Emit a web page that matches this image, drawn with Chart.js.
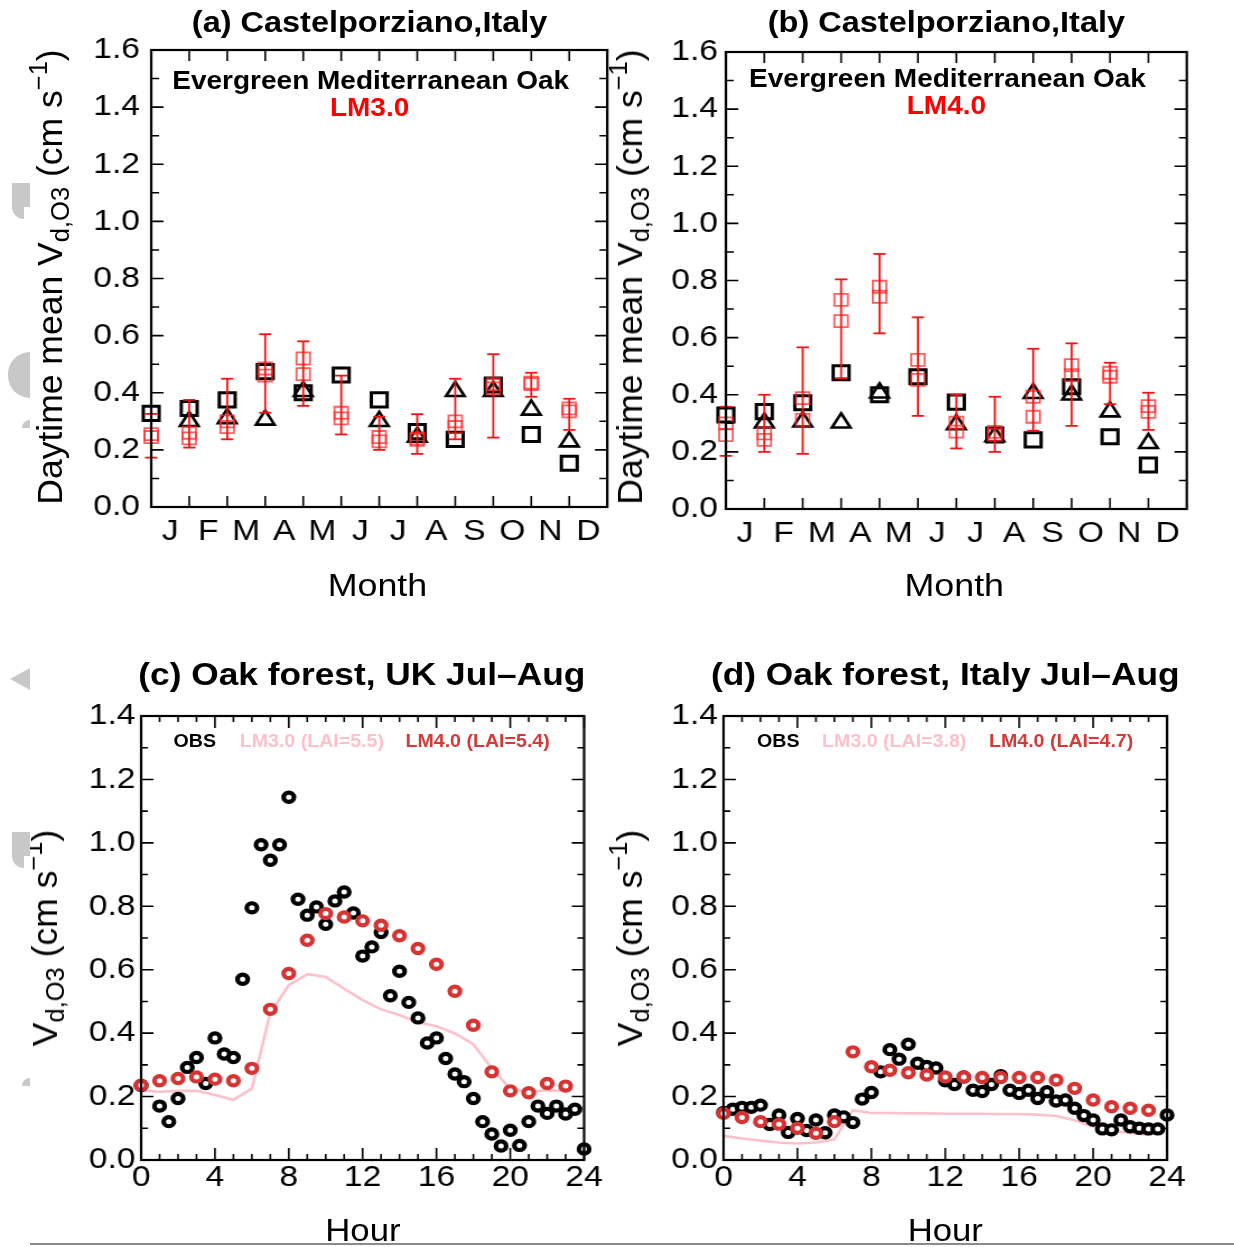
<!DOCTYPE html>
<html>
<head>
<meta charset="utf-8">
<script src="https://cdn.jsdelivr.net/npm/chart.js@4.4.1/dist/chart.umd.min.js"></script>
<style>
  html, body { margin: 0; padding: 0; background: #fff; }
  body { width: 1234px; height: 1247px; position: relative; overflow: hidden;
         font-family: "Liberation Sans", Arial, sans-serif; color: #000; }
  /* the original figure is stretched sideways, so is this one */
  #wrap { position: absolute; left: 0; top: 0; width: 1102px; height: 1247px;
          transform: scaleX(1.12); transform-origin: 0 0; }
  .box { position: absolute; }
  .t { position: absolute; white-space: nowrap; transform: translate(-50%, -50%); line-height: 1; }
  .b { font-weight: bold; }
  .lg { position: absolute; white-space: nowrap; transform: translateY(-50%); line-height: 1;
        font-weight: bold; font-size: 17.5px; }
  .yt { position: absolute; white-space: nowrap; line-height: 1;
        transform: translate(-50%, -50%) rotate(-90deg); }
  sub { font-size: 0.72em; vertical-align: -0.28em; }
  sup { font-size: 0.72em; vertical-align: 0.6em; }
  #rule { position: absolute; left: 30px; top: 1243px; width: 1204px; height: 2px; background: #8a8a8a; }
  .g { position: absolute; background: #c8c8c8; }
</style>
</head>
<body>
<div id="wrap">
  <div class="box" id="boxA"><canvas id="chartA"></canvas></div>
  <div class="box" id="boxB"><canvas id="chartB"></canvas></div>
  <div class="box" id="boxC"><canvas id="chartC"></canvas></div>
  <div class="box" id="boxD"><canvas id="chartD"></canvas></div>

  <div class="t b" style="left:330px;top:22px;font-size:29px">(a) Castelporziano,Italy</div>
  <div class="t b" style="left:845px;top:22px;font-size:29px">(b) Castelporziano,Italy</div>
  <div class="t b" style="left:331px;top:80px;font-size:25px">Evergreen Mediterranean Oak</div>
  <div class="t b" style="left:330px;top:107px;font-size:25px;color:#f00">LM3.0</div>
  <div class="t b" style="left:846px;top:78px;font-size:25px">Evergreen Mediterranean Oak</div>
  <div class="t b" style="left:845px;top:105px;font-size:25px;color:#f00">LM4.0</div>
  <div class="t" style="left:337px;top:585px;font-size:32px">Month</div>
  <div class="t" style="left:852px;top:585px;font-size:32px">Month</div>

  <div class="t b" style="left:323px;top:675px;font-size:31.5px">(c) Oak forest, UK Jul–Aug</div>
  <div class="t b" style="left:844px;top:675px;font-size:31.5px">(d) Oak forest, Italy Jul–Aug</div>
  <div class="lg" style="left:155px;top:742px">OBS</div>
  <div class="lg" style="left:214px;top:742px;color:#ffc0cb">LM3.0 (LAI=5.5)</div>
  <div class="lg" style="left:362px;top:742px;color:#d33a3a">LM4.0 (LAI=5.4)</div>
  <div class="lg" style="left:676px;top:742px">OBS</div>
  <div class="lg" style="left:734px;top:742px;color:#ffc0cb">LM3.0 (LAI=3.8)</div>
  <div class="lg" style="left:883px;top:742px;color:#d33a3a">LM4.0 (LAI=4.7)</div>
  <div class="t" style="left:324px;top:1230px;font-size:31px">Hour</div>
  <div class="t" style="left:844px;top:1230px;font-size:31px">Hour</div>
</div>

<div class="yt" style="left:50px;top:277px;font-size:35.5px">Daytime mean V<sub>d,O3</sub> (cm s<sup>−1</sup>)</div>
<div class="yt" style="left:630px;top:277px;font-size:35.5px">Daytime mean V<sub>d,O3</sub> (cm s<sup>−1</sup>)</div>
<div class="yt" style="left:45px;top:938px;font-size:35.5px">V<sub>d,O3</sub> (cm s<sup>−1</sup>)</div>
<div class="yt" style="left:630px;top:938px;font-size:35.5px">V<sub>d,O3</sub> (cm s<sup>−1</sup>)</div>
<div id="rule"></div>

<!-- grey scraps along the left edge of the original scan -->
<div class="g" style="left:12px;top:183px;width:18px;height:24px"></div>
<div class="g" style="left:12px;top:205px;width:12px;height:14px;border-radius:0 0 0 12px"></div>
<div class="g" style="left:8px;top:352px;width:22px;height:46px;border-radius:23px 0 0 23px"></div>
<div class="g" style="left:22px;top:420px;width:8px;height:8px;border-radius:8px 0 0 0"></div>
<div style="position:absolute;left:10px;top:668px;width:0;height:0;border-right:20px solid #c8c8c8;border-top:11px solid transparent;border-bottom:11px solid transparent"></div>
<div class="g" style="left:12px;top:832px;width:18px;height:24px"></div>
<div class="g" style="left:12px;top:854px;width:12px;height:14px;border-radius:0 0 0 12px"></div>
<div class="g" style="left:22px;top:1078px;width:8px;height:8px;border-radius:8px 0 0 0"></div>

<script>
// ---- axes ----
const months = ['J','F','M','A','M','J','J','A','S','O','N','D'];
const monthPos = [0,1,2,3,4,5,6,7,8,9,10,11];
const monthLabelPos = [0.5,1.5,2.5,3.5,4.5,5.5,6.5,7.5,8.5,9.5,10.5,11.5];
const monthTickPos = [1,2,3,4,5,6,7,8,9,10,11];
const vdTicksAB = [0,0.2,0.4,0.6,0.8,1.0,1.2,1.4,1.6];
const vdMinorAB = [0.1,0.3,0.5,0.7,0.9,1.1,1.3,1.5];
const vdTicksCD = [0,0.2,0.4,0.6,0.8,1.0,1.2,1.4];
const vdMinorCD = [0.1,0.3,0.5,0.7,0.9,1.1,1.3];
const hourTicks = [0,4,8,12,16,20,24];
const hourMinor = [1,2,3,5,6,7,9,10,11,13,14,15,17,18,19,21,22,23];
const hours = [0,1,2,3,4,5,6,7,8,9,10,11,12,13,14,15,16,17,18,19,20,21,22,23];
const halfHours = [0,0.5,1,1.5,2,2.5,3,3.5,4,4.5,5,5.5,6,6.5,7,7.5,8,8.5,9,9.5,10,10.5,11,11.5,
                   12,12.5,13,13.5,14,14.5,15,15.5,16,16.5,17,17.5,18,18.5,19,19.5,20,20.5,21,21.5,
                   22,22.5,23,23.5,24];

// ---- (a) Castelporziano, LM3.0 ----
const obsSqA  = [0.328,0.345,0.375,0.474,0.400,0.462,0.375,0.264,0.237,0.427,0.254,0.153];
const obsTriA = [null,0.300,0.310,0.305,0.405,null,0.300,0.245,0.405,0.405,0.340,0.229];
const modA1   = [0.255,0.260,0.300,0.485,0.520,0.330,0.245,0.240,0.300,0.430,0.435,0.345];
const modA2   = [0.245,0.240,0.280,0.460,0.465,0.310,0.230,0.235,0.280,0.415,0.430,0.335];
const modLoA  = [0.173,0.208,0.237,0.330,0.354,0.254,0.200,0.186,0.237,0.243,0.386,0.270];
const modHiA  = [0.326,0.375,0.449,0.605,0.580,0.460,0.316,0.325,0.449,0.535,0.470,0.379];

// ---- (b) Castelporziano, LM4.0 ----
const obsSqB  = [0.329,0.341,0.372,0.477,0.400,0.463,0.374,0.259,0.242,0.428,0.253,0.154];
const obsTriB = [null,0.302,0.306,0.302,0.407,null,0.296,0.254,0.405,0.400,0.341,0.230];
const modB1   = [0.300,0.265,0.388,0.732,0.778,0.522,0.302,0.270,0.393,0.504,0.477,0.360];
const modB2   = [0.259,0.242,0.312,0.658,0.743,0.452,0.271,0.260,0.323,0.469,0.463,0.340];
const modLoB  = [0.186,0.200,0.193,0.458,0.615,0.326,0.212,0.200,0.274,0.291,0.367,0.277];
const modHiB  = [0.358,0.400,0.566,0.804,0.893,0.671,0.400,0.393,0.561,0.580,0.512,0.407];

// ---- (c) Oak forest UK ----
const obsC = [0.235,null,0.170,0.121,0.194,0.292,0.323,0.241,0.385,0.334,0.323,0.570,0.795,0.994,
              0.945,0.994,1.144,0.822,0.772,0.798,0.743,0.817,0.845,0.779,0.643,0.672,0.717,0.518,
              0.595,0.497,0.448,0.369,0.385,0.320,0.271,0.247,0.194,0.121,0.082,0.044,0.094,0.046,
              0.121,0.170,0.147,0.170,0.145,0.160,0.035];
const lm3C = [0.220,0.215,0.218,0.218,0.205,0.190,0.225,0.465,0.551,0.586,0.577,0.540,
              0.504,0.475,0.457,0.434,0.422,0.399,0.365,0.289,0.224,0.215,0.220,0.218];
const lm4C = [0.236,0.250,0.257,0.262,0.255,0.250,0.289,0.475,0.588,0.693,0.777,0.766,
              0.754,0.740,0.707,0.667,0.617,0.532,0.425,0.278,0.218,0.212,0.241,0.233];

// ---- (d) Oak forest Italy ----
const obsD = [0.150,0.160,0.166,0.166,0.173,0.112,0.142,0.087,0.131,0.093,0.126,0.086,0.142,0.136,
              0.118,0.192,0.213,0.278,0.348,0.318,0.365,0.305,0.295,0.290,0.250,0.238,0.262,0.220,
              0.216,0.238,0.266,0.220,0.210,0.220,0.194,0.215,0.186,0.189,0.163,0.140,0.126,0.098,
              0.095,0.126,0.105,0.100,0.098,0.098,0.142];
const lm3D = [0.076,0.068,0.061,0.055,0.052,0.055,0.065,0.157,0.148,0.148,0.147,0.147,
              0.146,0.146,0.146,0.145,0.145,0.143,0.139,0.125,0.105,0.092,0.085,0.079];
const lm4D = [0.147,0.134,0.121,0.113,0.100,0.084,0.121,0.341,0.294,0.283,0.275,0.268,
              0.262,0.262,0.260,0.260,0.260,0.260,0.252,0.226,0.189,0.168,0.163,0.157];

// draws the frame and the inward tick marks of every panel
const frameTicks = {
  id: 'frameTicks',
  afterDatasetsDraw(chart, args, o) {
    const { ctx, chartArea: a, scales: { x, y } } = chart;
    ctx.save();
    ctx.strokeStyle = '#000';
    ctx.lineWidth = 1.6;
    ctx.beginPath();
    const tx = (vals, len) => (vals || []).forEach(v => {
      const p = x.getPixelForValue(v);
      ctx.moveTo(p, a.bottom); ctx.lineTo(p, a.bottom - len);
      ctx.moveTo(p, a.top); ctx.lineTo(p, a.top + len);
    });
    const ty = (vals, len) => (vals || []).forEach(v => {
      const p = y.getPixelForValue(v);
      ctx.moveTo(a.left, p); ctx.lineTo(a.left + len, p);
      ctx.moveTo(a.right, p); ctx.lineTo(a.right - len, p);
    });
    tx(o.xMajor, o.xMajorLen); tx(o.xMinor, o.xMinorLen);
    ty(o.yMajor, o.yMajorLen); ty(o.yMinor, o.yMinorLen);
    ctx.stroke();
    ctx.lineWidth = 2.2;
    ctx.strokeRect(a.left, a.top, a.right - a.left, a.bottom - a.top);
    ctx.restore();
  }
};
Chart.register(frameTicks);
Chart.defaults.font.family = '"Liberation Sans", Arial, sans-serif';
Chart.defaults.color = '#000';

const PAD_TOP = 34;
let charts = {};
function makeChart(id, config) {
  if (charts[id]) charts[id].destroy();
  charts[id] = new Chart(document.getElementById(id), config);
}

function place(boxId, left, top, width, height) {
  const b = document.getElementById(boxId);
  Object.assign(b.style, { left: left + 'px', top: top + 'px', width: width + 'px', height: height + 'px' });
}

function pts(xs, ys) { return xs.map((x, i) => ({ x, y: ys[i] })); }

function errBars(lo, hi) {
  const d = [];
  lo.forEach((v, i) => d.push({ x: monthPos[i], y: v }, { x: monthPos[i], y: hi[i] }, { x: monthPos[i], y: null }));
  return d;
}

function yAxis(ticks, max, pad) {
  return {
    type: 'linear', min: 0, max,
    grid: { display: false, drawTicks: false }, border: { display: false },
    afterBuildTicks: s => { s.ticks = ticks.map(v => ({ value: v })); },
    afterFit: s => { s.width = 60; },
    ticks: { padding: pad, font: { size: 30 }, color: '#000', callback: v => v.toFixed(1) }
  };
}

function baseOpts(xScale, yScale, ticks) {
  return {
    responsive: true, maintainAspectRatio: false, animation: false,
    layout: { padding: { top: PAD_TOP, right: 24, left: 0, bottom: 0 } },
    plugins: { legend: { display: false }, tooltip: { enabled: false }, frameTicks: ticks },
    scales: { x: xScale, y: yScale }
  };
}

function monthChart(id, sq, tri, m1, m2, lo, hi, yPad) {
  const xScale = {
    type: 'linear', min: 0, max: 12,
    grid: { display: false, drawTicks: false }, border: { display: false },
    afterBuildTicks: s => { s.ticks = monthLabelPos.map(v => ({ value: v })); },
    afterFit: s => { s.height = 50; },
    ticks: { padding: 7, font: { size: 30 }, color: '#000', autoSkip: false, maxRotation: 0,
             callback: (v, i) => months[i] }
  };
  const ticks = { xMajor: monthTickPos, xMajorLen: 11, yMajor: vdTicksAB, yMajorLen: 11,
                  yMinor: vdMinorAB, yMinorLen: 7 };
  makeChart(id, {
    type: 'scatter',
    data: { datasets: [
      { data: errBars(lo, hi), showLine: true, spanGaps: false, borderColor: '#f01414', borderWidth: 1.8,
        pointStyle: 'line', pointRadius: 5.5, pointBorderWidth: 1.8, pointBorderColor: '#f01414', clip: false },
      { data: pts(monthPos, m1), pointStyle: 'rect', pointRadius: 8.5, pointBorderWidth: 1.8,
        pointBorderColor: 'rgba(255,40,40,0.75)', pointBackgroundColor: 'transparent', clip: false },
      { data: pts(monthPos, m2), pointStyle: 'rect', pointRadius: 8.5, pointBorderWidth: 1.8,
        pointBorderColor: 'rgba(255,40,40,0.75)', pointBackgroundColor: 'transparent', clip: false },
      { data: pts(monthPos, sq), pointStyle: 'rect', pointRadius: 10, pointBorderWidth: 3,
        pointBorderColor: '#000', pointBackgroundColor: 'transparent', clip: false },
      { data: pts(monthPos, tri), pointStyle: 'triangle', pointRadius: 9.5, pointBorderWidth: 2.6,
        pointBorderColor: '#000', pointBackgroundColor: 'transparent', clip: false }
    ] },
    options: baseOpts(xScale, yAxis(vdTicksAB, 1.6, yPad), ticks)
  });
}

function hourChart(id, obs, lm3, lm4) {
  const xScale = {
    type: 'linear', min: 0, max: 24,
    grid: { display: false, drawTicks: false }, border: { display: false },
    afterBuildTicks: s => { s.ticks = hourTicks.map(v => ({ value: v })); },
    afterFit: s => { s.height = 40; },
    ticks: { padding: 0, font: { size: 30 }, color: '#000', autoSkip: false, maxRotation: 0,
             callback: v => String(v) }
  };
  const ticks = { xMajor: hourTicks, xMajorLen: 12, xMinor: hourMinor, xMinorLen: 6,
                  yMajor: vdTicksCD, yMajorLen: 11, yMinor: vdMinorCD, yMinorLen: 6 };
  makeChart(id, {
    type: 'scatter',
    data: { datasets: [
      { data: pts(hours, lm4), pointStyle: 'circle', pointRadius: 4.6, pointBorderWidth: 4.2,
        pointBorderColor: '#d63333', pointBackgroundColor: '#fff', clip: false },
      { data: pts(halfHours, obs), pointStyle: 'circle', pointRadius: 4.6, pointBorderWidth: 4.2,
        pointBorderColor: '#000', pointBackgroundColor: '#fff', clip: false },
      { data: pts(hours, lm3), showLine: true, borderColor: '#ffc0cb', borderWidth: 2.6,
        pointRadius: 0, tension: 0, clip: false }
    ] },
    options: baseOpts(xScale, yAxis(vdTicksCD, 1.4, 5), ticks)
  });
}

// plot frames (unstretched px): left, top, width, height
const frames = {
  boxA: [134.8, 50, 407.2, 457, 50],
  boxB: [648.2, 52, 410.7, 457, 50],
  boxC: [125.9, 716, 395.5, 444, 40],
  boxD: [646, 716, 396, 444, 40]
};
Object.entries(frames).forEach(([id, [l, t, w, h, xh]]) =>
  place(id, l - 60, t - PAD_TOP, 60 + w + 24, PAD_TOP + h + xh));

monthChart('chartA', obsSqA, obsTriA, modA1, modA2, modLoA, modHiA, 10);
monthChart('chartB', obsSqB, obsTriB, modB1, modB2, modLoB, modHiB, 7);
hourChart('chartC', obsC, lm3C, lm4C);
hourChart('chartD', obsD, lm3D, lm4D);
</script>
</body>
</html>
